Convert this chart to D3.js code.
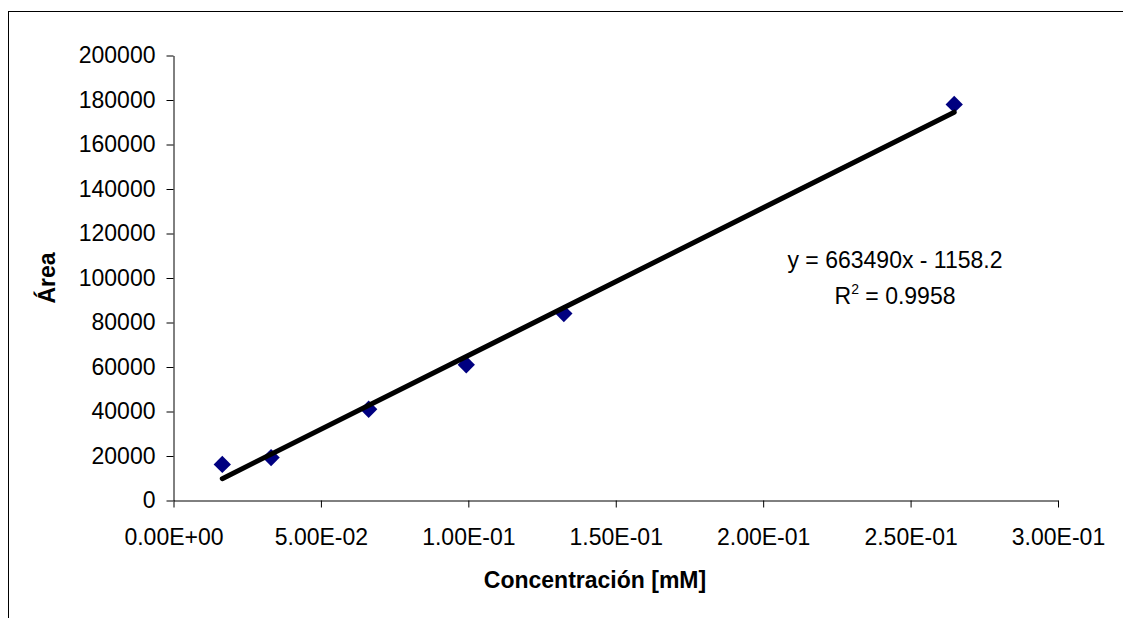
<!DOCTYPE html>
<html>
<head>
<meta charset="utf-8">
<script src="https://cdn.jsdelivr.net/npm/d3@7"></script>
<style>
  body { margin: 0; background: #fff; }
  svg text { font-family: "Liberation Sans", Arial, sans-serif; fill: #000; }
</style>
</head>
<body>
<div class="render"></div>
<script>
"use strict";

// data
var concentration = [0.01655, 0.0331, 0.0662, 0.0993, 0.1324, 0.2648];
var area = [16200, 19300, 41000, 61000, 84000, 178000];

// trendline as printed on the chart
var slope = 663490;
var intercept = -1158.2;

var xTicks = [0, 0.05, 0.1, 0.15, 0.2, 0.25, 0.3];
var xTickLabels = ["0.00E+00", "5.00E-02", "1.00E-01", "1.50E-01", "2.00E-01", "2.50E-01", "3.00E-01"];
var yTicks = [0, 20000, 40000, 60000, 80000, 100000, 120000, 140000, 160000, 180000, 200000];

var w = 1123;
var h = 618;

var svg = d3.select(".render").append("svg").attr("width", w).attr("height", h);

// outer chart frame (runs off the right and bottom edge)
svg.append("rect").attr("x", 8.5).attr("y", 11.5).attr("width", 1300).attr("height", 800)
   .attr("fill", "none").attr("stroke", "#000").attr("stroke-width", 1);

var xScale = d3.scaleLinear().domain([0, 0.3]).range([173.5, 1058]);
var yScale = d3.scaleLinear().domain([0, 200000]).range([500.5, 55.5]);

var xAxis = d3.axisBottom(xScale).tickValues(xTicks).tickSizeInner(7).tickSizeOuter(0).tickPadding(21)
   .tickFormat(function (d, i) { return xTickLabels[i]; });
var yAxis = d3.axisLeft(yScale).tickValues(yTicks).tickSizeInner(7).tickSizeOuter(0).tickPadding(11)
   .tickFormat(d3.format("d"));

var gx = svg.append("g").attr("transform", "translate(0,500.5)").call(xAxis);
var gy = svg.append("g").attr("transform", "translate(173.5,0)").call(yAxis);

[gx, gy].forEach(function (g) {
   g.selectAll("path, line").attr("stroke", "#000").attr("stroke-width", 1);
   g.selectAll("text").attr("font-size", "23px").attr("fill", "#000")
      .attr("font-family", "'Liberation Sans', Arial, sans-serif");
});

// markers
var diamond = d3.symbol().type(d3.symbolSquare).size(150);
svg.selectAll("path.pt").data(concentration).enter().append("path")
   .attr("class", "pt")
   .attr("d", diamond)
   .attr("transform", function (d, i) {
      return "translate(" + xScale(d) + "," + yScale(area[i]) + ") rotate(45)";
   })
   .attr("fill", "#000080");

// linear trendline across the data range
var xmin = d3.min(concentration), xmax = d3.max(concentration);
svg.append("line")
   .attr("x1", xScale(xmin)).attr("y1", yScale(slope * xmin + intercept))
   .attr("x2", xScale(xmax)).attr("y2", yScale(slope * xmax + intercept))
   .attr("stroke", "#000").attr("stroke-width", 5).attr("stroke-linecap", "round");

// axis titles
svg.append("text").text("Concentración [mM]")
   .attr("x", 595).attr("y", 588).attr("text-anchor", "middle")
   .style("font-size", "23px").style("font-weight", "bold");

svg.append("text").text("Área")
   .attr("transform", "translate(55,278) rotate(-90)").attr("text-anchor", "middle")
   .style("font-size", "23px").style("font-weight", "bold");

// equation label
svg.append("text").text("y = 663490x - 1158.2")
   .attr("x", 895).attr("y", 268).attr("text-anchor", "middle").style("font-size", "23px");

var r2 = svg.append("text").attr("x", 895).attr("y", 304).attr("text-anchor", "middle").style("font-size", "23px");
r2.append("tspan").text("R");
r2.append("tspan").text("2").attr("dy", -10).style("font-size", "14px");
r2.append("tspan").text(" = 0.9958").attr("dy", 10);
</script>
</body>
</html>
